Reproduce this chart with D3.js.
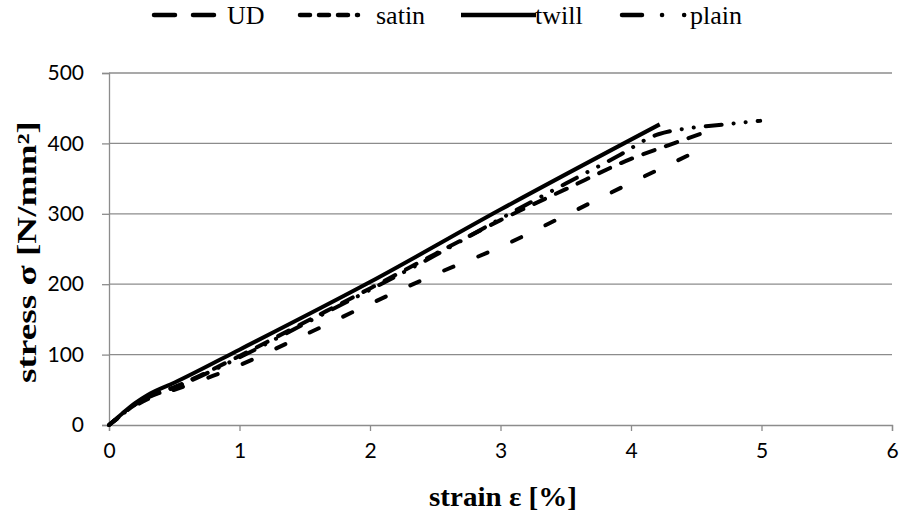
<!DOCTYPE html>
<html>
<head>
<meta charset="utf-8">
<script src="https://cdn.jsdelivr.net/npm/d3@7"></script>
<style>
  html, body { margin: 0; padding: 0; background: #fff; }
  svg { display: block; }
</style>
</head>
<body>
<svg id="chart" width="901" height="518"></svg>
<script>
// ---- data (strain %, stress N/mm²) ----
const seriesNames = ["UD", "satin", "twill", "plain"];
const udStrain    = [0, 0.1, 0.2, 0.3, 0.5, 0.8, 1.0, 1.5, 2.0, 2.5, 3.0, 3.5, 4.0, 4.45];
const udStress    = [0, 14, 27, 37, 50, 70, 85, 128, 172, 214, 253, 298, 344, 384];
const satinStrain = [0, 0.1, 0.2, 0.3, 0.5, 1.0, 1.5, 2.0, 2.5, 3.0, 3.5, 4.0, 4.28, 4.57];
const satinStress = [0, 15, 29, 40, 54, 98, 146, 194, 243, 291, 335, 378, 397, 416];
const twillStrain = [0, 0.1, 0.2, 0.3, 0.5, 1.0, 2.0, 3.0, 4.22];
const twillStress = [0, 16, 31, 43, 60, 107, 203, 306, 427];
const plainStrain = [0, 0.1, 0.2, 0.3, 0.5, 1.0, 1.5, 2.0, 2.5, 3.0, 3.5, 3.9, 4.21, 4.72, 4.99];
const plainStress = [0, 15, 29, 39, 53, 96, 144, 192, 241, 293, 343, 382, 413, 427, 432];
const xTicks = [0, 1, 2, 3, 4, 5, 6];
const yTicks = [0, 100, 200, 300, 400, 500];

const svg = d3.select("#chart");
const x = d3.scaleLinear().domain([0, 6]).range([109, 892]);
const y = d3.scaleLinear().domain([0, 500]).range([425, 73]);
const gridColor = "#8c8c8c";
const serif = "'Liberation Serif', 'Times New Roman', serif";
const sans = "Lato, 'Open Sans', sans-serif";

// grid lines
svg.append("g").selectAll("line").data(yTicks.filter(d => d > 0)).join("line")
  .attr("x1", x(0)).attr("x2", x(6))
  .attr("y1", d => y(d)).attr("y2", d => y(d))
  .attr("stroke", gridColor).attr("stroke-width", 1.3);

// y axis
const yAxis = svg.append("g").attr("transform", `translate(${x(0)},0)`)
  .call(d3.axisLeft(y).tickValues(yTicks).tickSize(7).tickPadding(18).tickFormat(d3.format("d")));
yAxis.select(".domain").attr("stroke", gridColor).attr("stroke-width", 1.3);
yAxis.selectAll(".tick line").attr("stroke", gridColor).attr("stroke-width", 1.3);
yAxis.selectAll("text").attr("font-family", sans).attr("font-size", 21).attr("fill", "#000");

// x axis
const xAxis = svg.append("g").attr("transform", `translate(0,${y(0)})`)
  .call(d3.axisBottom(x).tickValues(xTicks).tickSize(6).tickPadding(12).tickFormat(d3.format("d")));
xAxis.select(".domain").attr("stroke", gridColor).attr("stroke-width", 1.3);
xAxis.selectAll(".tick line").attr("stroke", gridColor).attr("stroke-width", 1.3);
xAxis.selectAll("text").attr("font-family", sans).attr("font-size", 21).attr("fill", "#000");

// series
const series = [
  { name: seriesNames[0], xs: udStrain,    ys: udStress,    dash: "10,27", offset: 0,  legendDash: "21,18" },
  { name: seriesNames[1], xs: satinStrain, ys: satinStress, dash: "12,12", offset: 0,  legendDash: "10,9" },
  { name: seriesNames[2], xs: twillStrain, ys: twillStress, dash: null,    offset: 0,  legendDash: null },
  { name: seriesNames[3], xs: plainStrain, ys: plainStress, dash: "16,12,0.1,12,0.1,12", offset: 8, legendDash: "20,20,0.1,22,0.1,20" }
];
const line = d3.line().x(d => x(d[0])).y(d => y(d[1])).curve(d3.curveMonotoneX);

svg.append("g").selectAll("path").data(series).join("path")
  .attr("d", s => line(s.xs.map((v, i) => [v, s.ys[i]])))
  .attr("fill", "none").attr("stroke", "#000").attr("stroke-width", 4)
  .attr("stroke-linecap", s => s.dash ? "round" : "butt")
  .attr("stroke-linejoin", "round")
  .attr("stroke-dasharray", s => s.dash)
  .attr("stroke-dashoffset", s => s.offset);

// legend
const legendItems = [
  { x1: 152, x2: 217, tx: 227 },
  { x1: 298, x2: 360, tx: 376 },
  { x1: 461, x2: 536, tx: 535 },
  { x1: 620, x2: 690, tx: 690 }
];
const lg = svg.append("g");
series.forEach((s, i) => {
  const li = legendItems[i];
  lg.append("line").attr("x1", li.x1 + (s.dash ? 2 : 0)).attr("x2", li.x2 - (s.dash ? 2 : 0))
    .attr("y1", 15).attr("y2", 15)
    .attr("stroke", "#000").attr("stroke-width", 4.5)
    .attr("stroke-linecap", s.dash ? "round" : "butt")
    .attr("stroke-dasharray", s.legendDash);
  lg.append("text").attr("x", li.tx).attr("y", 24)
    .attr("font-family", serif).attr("font-size", 26).text(s.name);
});

// axis titles
svg.append("text").attr("x", 503).attr("y", 506).attr("text-anchor", "middle")
  .attr("font-family", serif).attr("font-weight", "bold").attr("font-size", 27)
  .attr("textLength", 148).attr("lengthAdjust", "spacingAndGlyphs")
  .text("strain ε [%]");
svg.append("text").attr("transform", "translate(36,252) rotate(-90)").attr("text-anchor", "middle")
  .attr("font-family", serif).attr("font-weight", "bold").attr("font-size", 27)
  .attr("textLength", 262).attr("lengthAdjust", "spacingAndGlyphs")
  .text("stress σ [N/mm²]");
</script>
</body>
</html>
